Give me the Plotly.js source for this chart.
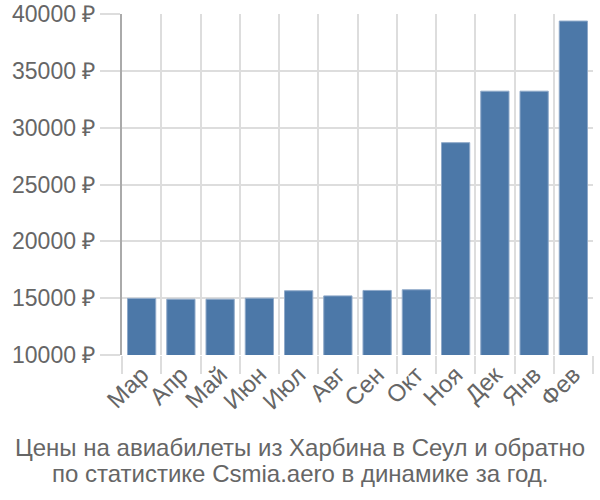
<!DOCTYPE html>
<html><head><meta charset="utf-8">
<script src="https://cdn.plot.ly/plotly-3.0.1.min.js"></script>
<style>body{margin:0}</style></head>
<body><div id="chart" style="width:600px;height:500px"></div>
<script>
const months = ['Мар','Апр','Май','Июн','Июл','Авг','Сен','Окт','Ноя','Дек','Янв','Фев'];
const prices = [14980, 14910, 14910, 15000, 15650, 15200, 15680, 15740, 28680, 33210, 33210, 39380];
const yTicks = [10000, 15000, 20000, 25000, 30000, 35000, 40000];
const yTickText = yTicks.map(v => v + ' ₽');
const titleLines = ['Цены на авиабилеты из Харбина в Сеул и обратно', 'по статистике Csmia.aero в динамике за год.'];

const font = 'Liberation Sans, Arial, sans-serif';
const plotTop = 14, plotBottom = 355;
const toPaper = p => (plotBottom - p) / (plotBottom - plotTop);
Plotly.newPlot('chart', [{
  type: 'bar', x: months, y: prices, base: 0,
  marker: {color: '#4c78a8', line: {color: '#8fa9c9', width: 1}},
  hoverinfo: 'none'
}], {
  width: 600, height: 500,
  margin: {l: 122, r: 7, t: 14, b: 145},
  paper_bgcolor: '#fff', plot_bgcolor: '#fff',
  bargap: 0.28,
  font: {family: font, color: '#666', size: 23},
  annotations: titleLines.map((t, i) => ({
    text: t, xref: 'paper', yref: 'paper', x: 0.5 - 0.5 * (122 - 7) / 471, xanchor: 'center',
    y: toPaper(447 + i * 26.6), yanchor: 'middle', showarrow: false,
    font: {family: font, size: 24, color: '#666'}
  })),
  xaxis: {type: 'category', tickson: 'boundaries', ticks: 'outside', ticklen: 18,
          tickcolor: '#ddd', tickwidth: 2, showgrid: true, gridcolor: '#ddd', gridwidth: 2,
          tickangle: -45, tickfont: {size: 24, color: '#666'}, showline: false, zeroline: false},
  yaxis: {range: [10000, 40000], tickvals: yTicks, ticktext: yTickText, ticks: 'outside', ticklen: 20,
          tickcolor: '#ddd', tickwidth: 2, gridcolor: '#ddd', gridwidth: 2, showline: true,
          linecolor: '#aaa', linewidth: 2, zeroline: false, tickfont: {size: 23, color: '#666'}},
  showlegend: false
}, {displayModeBar: false, staticPlot: true});
</script></body></html>
